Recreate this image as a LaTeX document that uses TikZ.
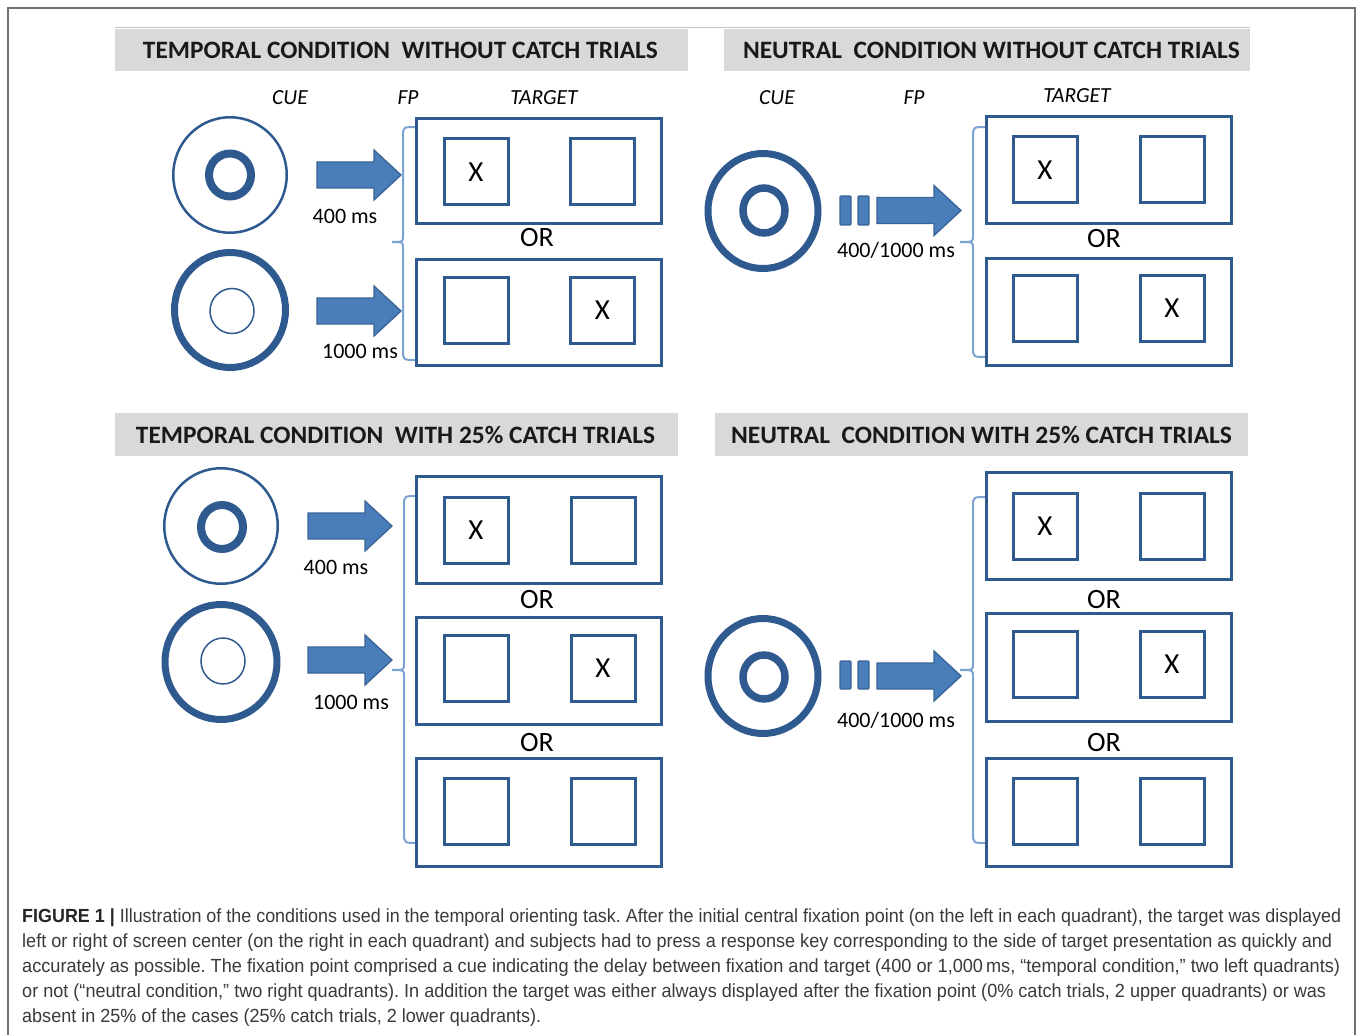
\documentclass[tikz,border=0pt]{standalone}
\usepackage{fontspec}
\usepackage{graphicx}
\usetikzlibrary{shapes.geometric}
\setmainfont{Carlito}
\newfontfamily\capfont{Liberation Sans}
\frenchspacing
\definecolor{bx}{HTML}{2F5A8F}
\definecolor{arf}{HTML}{4A7EBB}
\definecolor{aro}{HTML}{3A6497}
\definecolor{brk}{HTML}{7DA2D4}
\definecolor{hdr}{HTML}{D9D9D9}
\definecolor{captxt}{HTML}{3A3A3A}
\definecolor{frm}{HTML}{707070}
\tikzset{
  hdrbox/.style={fill=hdr, inner sep=0, minimum height=42pt},
  hdrtxt/.style={inner sep=0, text=black!90, font=\bfseries\fontsize{25}{25}\selectfont},
  screen/.style={draw=bx, line width=3pt, inner sep=0, minimum width=245pt, minimum height=105pt},
  quad/.style={draw=bx, line width=3pt, inner sep=0, minimum width=64pt, minimum height=66pt, font=\fontsize{29}{29}\selectfont},
  ortxt/.style={inner sep=0, font=\fontsize{28}{28}\selectfont},
  lbl/.style={inner sep=0, font=\itshape\fontsize{21.5}{21.5}\selectfont},
  dur/.style={inner sep=0, font=\fontsize{22}{22}\selectfont},
  brace/.style={draw=brk, line width=2pt},
  blockarrow/.style={fill=arf, draw=aro, line width=1.3pt, line join=miter},
  ring/.style={draw=bx, ellipse, inner sep=0},
  capline/.style={inner sep=0, anchor=base west, text=captxt, font=\capfont\fontsize{19}{19}\selectfont},
}
\newcommand\myarrow[2]{\draw[blockarrow] (#1,#2) ++(0,-13) -- ++(57,0) -- ++(0,-12) -- ++(27,25) -- ++(-27,25) -- ++(0,-12) -- ++(-57,0) -- cycle;}
\newcommand\mybrace[5]{\draw[brace] (#1+13,#2) .. controls (#1,#2) .. (#1,#2+10) -- (#1,#3-6) .. controls (#1,#3) .. (#5,#3) .. controls (#1,#3) .. (#1,#3+6) -- (#1,#4-10) .. controls (#1,#4) .. (#1+13,#4);}
\begin{document}
\begin{tikzpicture}[x=1pt,y=-1pt]
\useasboundingbox (0,0) rectangle (1358,1035);
\fill[white] (0,0) rectangle (1358,1035);
% frame
\draw[frm, line width=1.5pt] (8,1035) -- (8,8) -- (1355,8) -- (1355,1035);
\draw[gray!45, line width=1pt] (115,28) -- (1250,28);

% ===== headers =====
\node[hdrbox, minimum width=573pt] (hTL) at (401.5,50.5) {};
\node[hdrtxt] (hTLt) at (400.5,50) {\resizebox{515pt}{\height}{TEMPORAL CONDITION\ \ WITHOUT CATCH TRIALS}};
\node[hdrbox, minimum width=526pt] (hTR) at (987,50.5) {};
\node[hdrtxt] (hTRt) at (991.5,50) {\resizebox{497pt}{\height}{NEUTRAL\ \ CONDITION WITHOUT CATCH TRIALS}};
\node[hdrbox, minimum width=563pt, minimum height=43pt] (hBL) at (396.5,434.5) {};
\node[hdrtxt] (hBLt) at (395.5,435) {\resizebox{519pt}{\height}{TEMPORAL CONDITION\ \ WITH 25\% CATCH TRIALS}};
\node[hdrbox, minimum width=533pt, minimum height=43pt] (hBR) at (981.5,434.5) {};
\node[hdrtxt] (hBRt) at (981.5,435) {\resizebox{501pt}{\height}{NEUTRAL\ \ CONDITION WITH 25\% CATCH TRIALS}};

% ===== column labels =====
\node[lbl] (tlCue) at (290,98) {CUE};
\node[lbl] (tlFp) at (408,98) {FP};
\node[lbl] (tlTg) at (544,98) {TARGET};
\node[lbl] (trCue) at (777,98) {CUE};
\node[lbl] (trFp) at (914,98) {FP};
\node[lbl] (trTg) at (1077,96) {TARGET};

% ===== TOP LEFT =====
\node[ring, line width=2.5pt, minimum width=113.5pt, minimum height=115.5pt] (tlC1) at (230,175) {};
\node[ring, line width=8pt, minimum width=42pt, minimum height=43pt] (tlC1i) at (230,175) {};
\node[ring, line width=7pt, minimum width=111pt, minimum height=115pt] (tlC2) at (230,310) {};
\node[ring, line width=1.5pt, minimum width=44pt, minimum height=45pt] (tlC2i) at (232,311) {};
\myarrow{317}{175}
\myarrow{317}{311}
\node[dur] (tlD1) at (345,216) {400 ms};
\node[dur] (tlD2) at (360,351) {1000 ms};
\mybrace{403}{127}{242}{360}{392}
\node[screen] (tlA) at (539,171) {};
\node[quad] (tlAl) at (476,172) {X};
\node[quad] (tlAr) at (602.5,172) {};
\node[ortxt] (tlOR) at (537,238) {OR};
\node[screen] (tlB) at (539,312.5) {};
\node[quad] (tlBl) at (476,310.5) {};
\node[quad] (tlBr) at (602.5,310.5) {X};

% ===== TOP RIGHT =====
\node[ring, line width=7pt, minimum width=110pt, minimum height=115pt] (trC) at (763,211) {};
\node[ring, line width=7.5pt, minimum width=42pt, minimum height=45pt] (trCi) at (764,210.5) {};
\draw[blockarrow, rounded corners=1pt] (840,196) rectangle (851,225);
\draw[blockarrow, rounded corners=1pt] (858,196) rectangle (869,225);
\myarrow{877}{210.5}
\node[dur] (trD) at (896,250) {400/1000 ms};
\mybrace{973}{127}{242}{357}{960}
\node[screen, minimum height=107pt] (trA) at (1108.5,170.5) {};
\node[quad] (trAl) at (1045,170) {X};
\node[quad] (trAr) at (1172,170) {};
\node[ortxt] (trOR) at (1104,239) {OR};
\node[screen, minimum height=107pt] (trB) at (1108.5,312) {};
\node[quad] (trBl) at (1045,308.5) {};
\node[quad] (trBr) at (1172,308.5) {X};

% ===== BOTTOM LEFT =====
\node[ring, line width=2.5pt, minimum width=113.5pt, minimum height=115.5pt] (blC1) at (221,526) {};
\node[ring, line width=8pt, minimum width=42pt, minimum height=44pt] (blC1i) at (222,527) {};
\node[ring, line width=7pt, minimum width=112pt, minimum height=115pt] (blC2) at (221,662) {};
\node[ring, line width=1.5pt, minimum width=44pt, minimum height=46pt] (blC2i) at (223,661) {};
\myarrow{308}{526}
\myarrow{308}{660}
\node[dur] (blD1) at (336,567) {400 ms};
\node[dur] (blD2) at (351,702) {1000 ms};
\mybrace{404}{496}{670}{843}{392}
\node[screen, minimum height=107pt] (blA) at (539,529.5) {};
\node[quad] (blAl) at (476,530) {X};
\node[quad] (blAr) at (603,530) {};
\node[ortxt] (blOR1) at (537,600) {OR};
\node[screen, minimum height=107pt] (blB) at (539,670.5) {};
\node[quad] (blBl) at (476,668.5) {};
\node[quad] (blBr) at (603,668.5) {X};
\node[ortxt] (blOR2) at (537,743) {OR};
\node[screen, minimum height=108pt] (blC) at (539,812) {};
\node[quad] (blCl) at (476,811.5) {};
\node[quad] (blCr) at (603,811.5) {};

% ===== BOTTOM RIGHT =====
\node[ring, line width=7pt, minimum width=110pt, minimum height=115pt] (brCc) at (763,676) {};
\node[ring, line width=7.5pt, minimum width=42pt, minimum height=44pt] (brCi) at (764,677) {};
\draw[blockarrow, rounded corners=1pt] (840,661) rectangle (851,689);
\draw[blockarrow, rounded corners=1pt] (858,661) rectangle (869,689);
\myarrow{877}{676}
\node[dur] (brD) at (896,720) {400/1000 ms};
\mybrace{973}{497}{670}{843}{960}
\node[screen, minimum height=107pt] (brA) at (1109,525.5) {};
\node[quad] (brAl) at (1045,526) {X};
\node[quad] (brAr) at (1172,526) {};
\node[ortxt] (brOR1) at (1104,600) {OR};
\node[screen, minimum height=108pt] (brB) at (1109,667) {};
\node[quad] (brBl) at (1045,664.5) {};
\node[quad] (brBr) at (1172,664.5) {X};
\node[ortxt] (brOR2) at (1104,743) {OR};
\node[screen, minimum height=108pt] (brC) at (1109,812) {};
\node[quad] (brCl) at (1045,811.5) {};
\node[quad] (brCr) at (1172,811.5) {};

% ===== caption =====
\node[capline] (cap1) at (22,922) {\resizebox{1319pt}{\height}{\textbf{\color{black!85}FIGURE 1 |} Illustration of the conditions used in the temporal orienting task. After the initial central fixation point (on the left in each quadrant), the target was displayed}};
\node[capline] (cap2) at (22,947) {\resizebox{1310pt}{\height}{left or right of screen center (on the right in each quadrant) and subjects had to press a response key corresponding to the side of target presentation as quickly and}};
\node[capline] (cap3) at (22,972) {\resizebox{1318pt}{\height}{accurately as possible. The fixation point comprised a cue indicating the delay between fixation and target (400 or 1,000\,ms, “temporal condition,” two left quadrants)}};
\node[capline] (cap4) at (22,997) {\resizebox{1304pt}{\height}{or not (“neutral condition,” two right quadrants). In addition the target was either always displayed after the fixation point (0\% catch trials, 2 upper quadrants) or was}};
\node[capline] (cap5) at (22,1022) {\resizebox{519pt}{\height}{absent in 25\% of the cases (25\% catch trials, 2 lower quadrants).}};
\end{tikzpicture}
\end{document}
